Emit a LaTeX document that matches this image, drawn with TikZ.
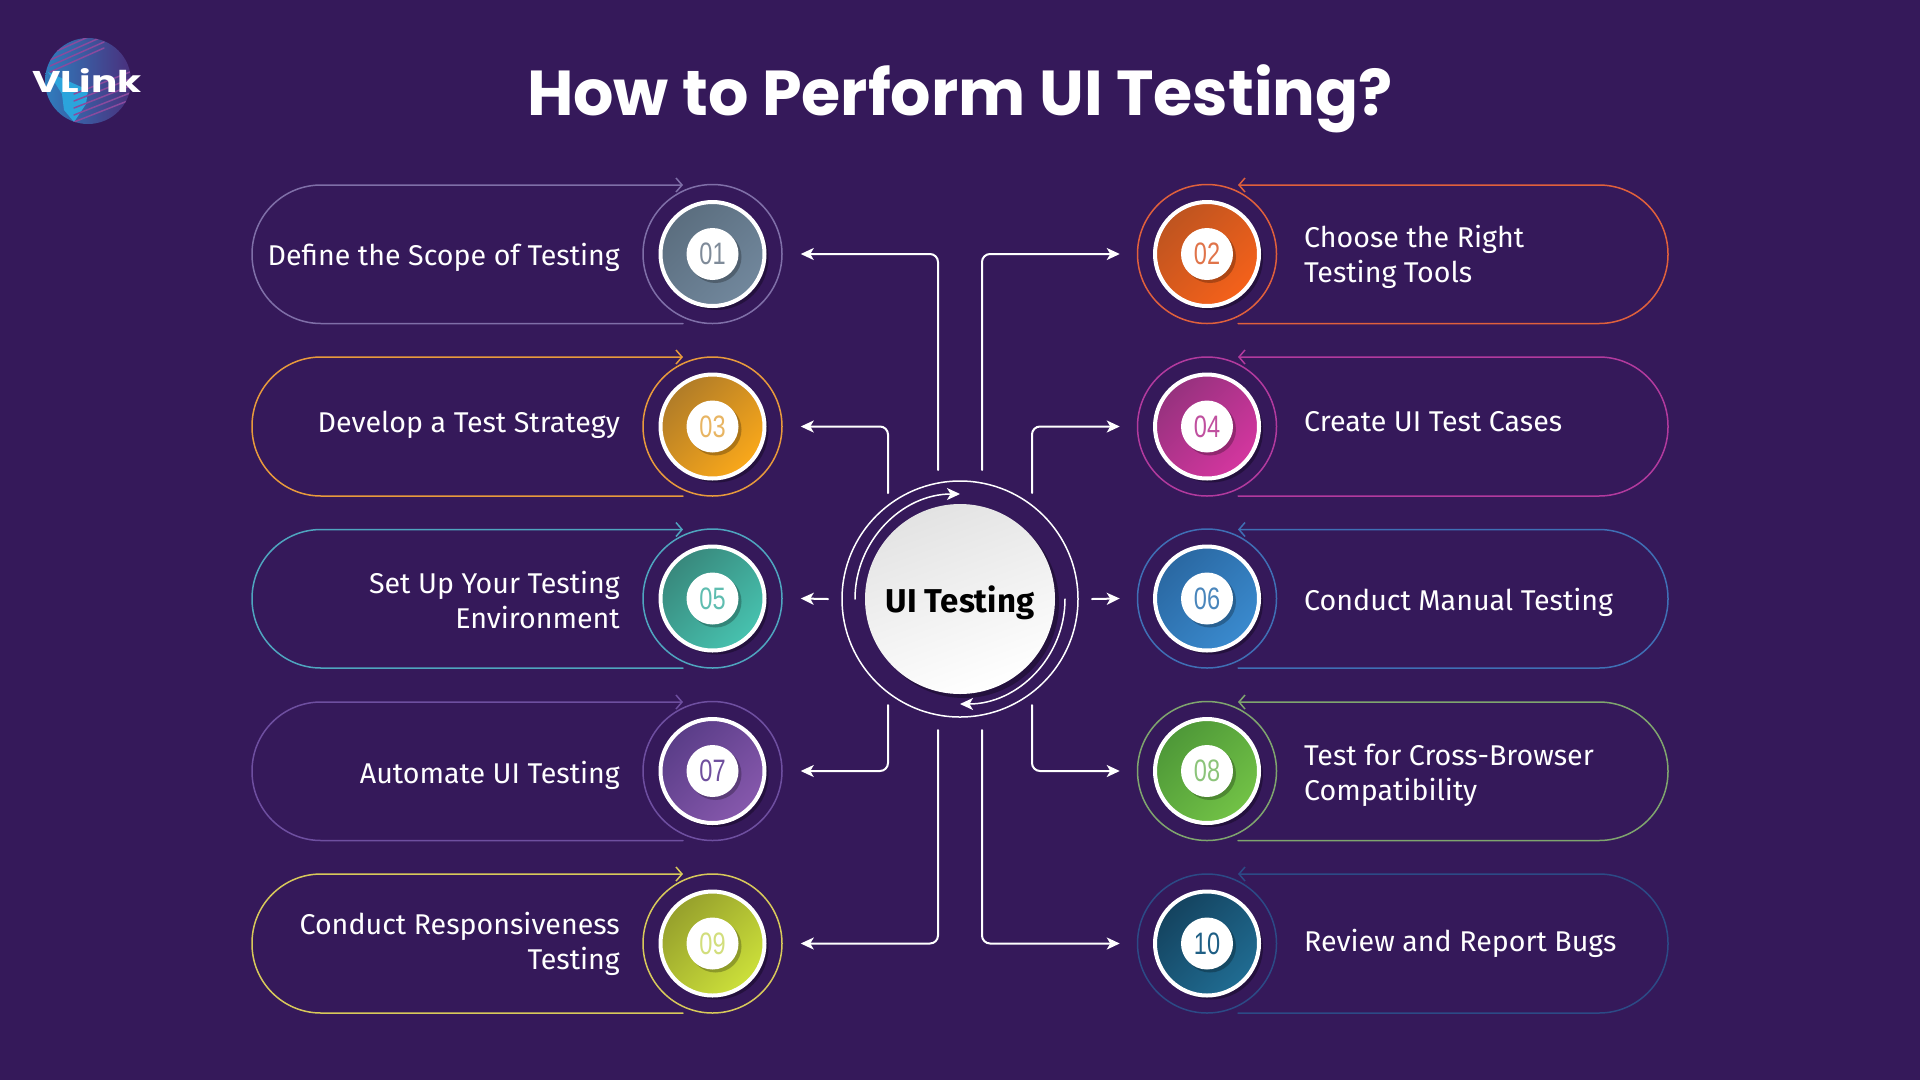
\documentclass[tikz,border=0pt]{standalone}
\usepackage{fontspec}
\setmainfont{Fira Sans}
\newfontfamily\titlefont{Poppins}
\newfontfamily\digitfont{Liberation Sans}
\usetikzlibrary{arrows.meta,shadows}
\definecolor{bgpurple}{HTML}{35195A}
% line, disc start, disc end, digit
\definecolor{lineA}{HTML}{7F6FA8}\definecolor{darkA}{HTML}{5B6E7F}\definecolor{liteA}{HTML}{71879C}\definecolor{numA}{HTML}{7F8B99}
\definecolor{lineB}{HTML}{E0603C}\definecolor{darkB}{HTML}{BE5420}\definecolor{liteB}{HTML}{F5611A}\definecolor{numB}{HTML}{E0744A}
\definecolor{lineC}{HTML}{E89A3C}\definecolor{darkC}{HTML}{B07C28}\definecolor{liteC}{HTML}{FAA81A}\definecolor{numC}{HTML}{E8B563}
\definecolor{lineD}{HTML}{B23A9E}\definecolor{darkD}{HTML}{96327E}\definecolor{liteD}{HTML}{D4369F}\definecolor{numD}{HTML}{C0509F}
\definecolor{lineE}{HTML}{4FA5BF}\definecolor{darkE}{HTML}{38887C}\definecolor{liteE}{HTML}{47C2AF}\definecolor{numE}{HTML}{5FBDB0}
\definecolor{lineF}{HTML}{3F6FB5}\definecolor{darkF}{HTML}{2A68A2}\definecolor{liteF}{HTML}{3A8ACE}\definecolor{numF}{HTML}{4A86BC}
\definecolor{lineG}{HTML}{6E4FA0}\definecolor{darkG}{HTML}{5A3D88}\definecolor{liteG}{HTML}{8658AC}\definecolor{numG}{HTML}{6F4F9E}
\definecolor{lineH}{HTML}{7FA56E}\definecolor{darkH}{HTML}{4E9838}\definecolor{liteH}{HTML}{72C246}\definecolor{numH}{HTML}{8CC47A}
\definecolor{lineI}{HTML}{D8C95A}\definecolor{darkI}{HTML}{96A02C}\definecolor{liteI}{HTML}{CCE03A}\definecolor{numI}{HTML}{D2DE7C}
\definecolor{lineJ}{HTML}{2C4A86}\definecolor{darkJ}{HTML}{14435F}\definecolor{liteJ}{HTML}{206C92}\definecolor{numJ}{HTML}{1F5F85}
\definecolor{globeA}{HTML}{2F7DBE}\definecolor{globeB}{HTML}{4A2F7C}\definecolor{landC}{HTML}{2BA4DC}\definecolor{stripeC}{HTML}{8A4A9E}
\newcommand{\numtext}[1]{\digitfont\scalebox{.76}[1]{#1}}
\tikzset{
	ring/.style={circle, inner sep=0, minimum size=139pt, draw=#1, line width=1.5pt},
	disc/.style 2 args={circle, inner sep=0, minimum size=104pt, draw=white, line width=4pt, top color=#1, bottom color=#2, shading angle=45, drop shadow={shadow xshift=4pt, shadow yshift=-4pt, fill=black, opacity=.3}},
	badge/.style={circle, inner sep=0, minimum size=52pt, fill=white, text=#1, font=\fontsize{31}{31}\selectfont, drop shadow={shadow xshift=3pt, shadow yshift=-3pt, fill=black, opacity=.25}},
	pill/.style={draw=#1, line width=1.5pt, rounded corners=69pt, -{Straight Barb[length=6pt,width=14pt]}},
	link/.style={draw=white, line width=2pt, rounded corners=8pt, -{Stealth[length=13pt,width=12pt,inset=3.5pt]}},
	lefttext/.style={anchor=east, align=right, inner sep=0, text=white, font=\fontsize{28.6}{35}\selectfont},
	righttext/.style={anchor=west, align=left, inner sep=0, text=white, font=\fontsize{28.6}{35}\selectfont},
}
\begin{document}
\begin{tikzpicture}[x=1pt, y=-1pt, line join=round, line cap=round, >=stealth]
	\fill[bgpurple] (0,0) rectangle (1920,1080);
	\useasboundingbox (0,0) rectangle (1920,1080);

	% logo
	\node[circle, inner sep=0, minimum size=86pt, left color=globeA, right color=globeB] (globe) at (88,81) {};
	\begin{scope}
		\clip (88,81) circle[radius=43pt];
		\fill[landC] (48,72) -- (88,90) -- (86,104) -- (74,122) -- (64,110) -- (62,94) -- cycle;
		\foreach \k in {0,...,4}
			\draw[stripeC, line width=1.5pt] (74,122-7*\k) -- (130,100-7*\k);
		\foreach \k in {0,...,5}
			\draw[stripeC, line width=1.5pt] (50,72-6*\k) -- (104,48-6*\k);
	\end{scope}
	\node[text=white, font=\titlefont\bfseries\fontsize{30}{30}\selectfont] (logo) at (87,80) {\scalebox{1.3}[1]{VLink}};

	\node[text=white, font=\titlefont\bfseries\fontsize{63.5}{64}\selectfont] (title) at (960,99) {How to Perform UI Testing?};

	% pills
	\draw[pill=lineA] (683,323.5) -- (252,323.5) -- (252,185) -- (683,185);
	\draw[pill=lineC] (683,496) -- (252,496) -- (252,357) -- (683,357);
	\draw[pill=lineE] (683,668) -- (252,668) -- (252,529.5) -- (683,529.5);
	\draw[pill=lineG] (683,840.5) -- (252,840.5) -- (252,702) -- (683,702);
	\draw[pill=lineI] (683,1013) -- (252,1013) -- (252,874) -- (683,874);
	\draw[pill=lineB] (1238,323.5) -- (1668,323.5) -- (1668,185) -- (1238,185);
	\draw[pill=lineD] (1238,496) -- (1668,496) -- (1668,357) -- (1238,357);
	\draw[pill=lineF] (1238,668) -- (1668,668) -- (1668,529.5) -- (1238,529.5);
	\draw[pill=lineH] (1238,840.5) -- (1668,840.5) -- (1668,702) -- (1238,702);
	\draw[pill=lineJ] (1238,1013) -- (1668,1013) -- (1668,874) -- (1238,874);

	% left column
	\node[ring=lineA] (r01) at (712.5,254) {};
	\node[disc={darkA}{liteA}] (d01) at (r01) {};
	\node[badge=numA] (n01) at (r01) {\numtext{01}};
	\node[lefttext] (t01) at (620,257) {Define the Scope of Testing};

	\node[ring=lineC] (r03) at (712.5,426.5) {};
	\node[disc={darkC}{liteC}] (d03) at (r03) {};
	\node[badge=numC] (n03) at (r03) {\numtext{03}};
	\node[lefttext] (t03) at (620,425) {Develop a Test Strategy};

	\node[ring=lineE] (r05) at (712.5,598.5) {};
	\node[disc={darkE}{liteE}] (d05) at (r05) {};
	\node[badge=numE] (n05) at (r05) {\numtext{05}};
	\node[lefttext] (t05) at (620,600) {Set Up Your Testing\\Environment};

	\node[ring=lineG] (r07) at (712.5,771) {};
	\node[disc={darkG}{liteG}] (d07) at (r07) {};
	\node[badge=numG] (n07) at (r07) {\numtext{07}};
	\node[lefttext] (t07) at (620,775.5) {Automate UI Testing};

	\node[ring=lineI] (r09) at (712.5,943.5) {};
	\node[disc={darkI}{liteI}] (d09) at (r09) {};
	\node[badge=numI] (n09) at (r09) {\numtext{09}};
	\node[lefttext] (t09) at (620,943.5) {Conduct Responsiveness\\Testing};

	% right column
	\node[ring=lineB] (r02) at (1207,254) {};
	\node[disc={darkB}{liteB}] (d02) at (r02) {};
	\node[badge=numB] (n02) at (r02) {\numtext{02}};
	\node[righttext] (t02) at (1304,256.5) {Choose the Right\\Testing Tools};

	\node[ring=lineD] (r04) at (1207,426.5) {};
	\node[disc={darkD}{liteD}] (d04) at (r04) {};
	\node[badge=numD] (n04) at (r04) {\numtext{04}};
	\node[righttext] (t04) at (1304,422) {Create UI Test Cases};

	\node[ring=lineF] (r06) at (1207,598.5) {};
	\node[disc={darkF}{liteF}] (d06) at (r06) {};
	\node[badge=numF] (n06) at (r06) {\numtext{06}};
	\node[righttext] (t06) at (1304,602.5) {Conduct Manual Testing};

	\node[ring=lineH] (r08) at (1207,771) {};
	\node[disc={darkH}{liteH}] (d08) at (r08) {};
	\node[badge=numH] (n08) at (r08) {\numtext{08}};
	\node[righttext] (t08) at (1304,775.5) {Test for Cross-Browser\\Compatibility};

	\node[ring=lineJ] (r10) at (1207,943.5) {};
	\node[disc={darkJ}{liteJ}] (d10) at (r10) {};
	\node[badge=numJ] (n10) at (r10) {\numtext{10}};
	\node[righttext] (t10) at (1304,943.5) {Review and Report Bugs};

	% centre
	\node[circle, inner sep=0, minimum size=236pt, draw=white, line width=1.5pt] (hubring) at (960,599) {};
	\node[circle, inner sep=0, minimum size=190pt, top color=gray!22, bottom color=white, shading angle=20, drop shadow={shadow xshift=4pt, shadow yshift=-4pt, fill=black, opacity=.3}, text depth=0pt, font=\bfseries\fontsize{33}{33}\selectfont] (hub) at (hubring) {UI Testing};
	\draw[white, line width=1.5pt, -{Stealth[length=13pt,width=12pt,inset=3.5pt]}] (855,599) arc[start angle=180, end angle=90, radius=105pt];
	\draw[white, line width=1.5pt, -{Stealth[length=13pt,width=12pt,inset=3.5pt]}] (1065,599) arc[start angle=0, end angle=-90, radius=105pt];

	% connector ends
	\path (938,470) coordinate (s01)
		(982,470) coordinate (s02)
		(888,493) coordinate (s03)
		(1032,493) coordinate (s04)
		(828,599) coordinate (s05)
		(1092,599) coordinate (s06)
		(888,705) coordinate (s07)
		(1032,705) coordinate (s08)
		(938,730) coordinate (s09)
		(982,730) coordinate (s10);
	\draw[link] (s01) |- ([xshift=18pt]r01.east);
	\draw[link] (s02) |- ([xshift=-17pt]r02.west);
	\draw[link] (s03) |- ([xshift=18pt]r03.east);
	\draw[link] (s04) |- ([xshift=-17pt]r04.west);
	\draw[link] (s05) -- ([xshift=18pt]r05.east);
	\draw[link] (s06) -- ([xshift=-17pt]r06.west);
	\draw[link] (s07) |- ([xshift=18pt]r07.east);
	\draw[link] (s08) |- ([xshift=-17pt]r08.west);
	\draw[link] (s09) |- ([xshift=18pt]r09.east);
	\draw[link] (s10) |- ([xshift=-17pt]r10.west);
\end{tikzpicture}
\end{document}
